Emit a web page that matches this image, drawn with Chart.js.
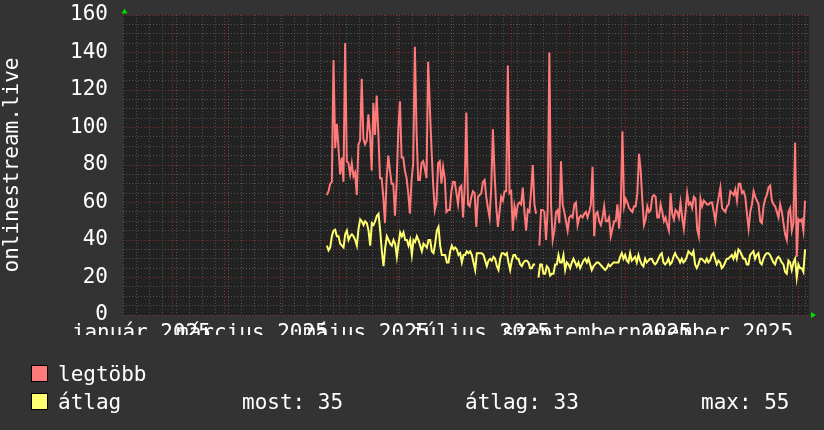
<!DOCTYPE html>
<html>
<head>
<meta charset="utf-8">
<script src="https://cdn.jsdelivr.net/npm/chart.js@4.4.1/dist/chart.umd.min.js"></script>
<style>
    html, body { margin: 0; padding: 0; background: #333333; }
    #wrap { width: 824px; height: 430px; }
</style>
</head>
<body>
<div id="wrap"><canvas id="myChart" width="824" height="430"></canvas></div>
<script>
// series values, one reading per step from late April 2025 to early January 2026 (null = no data)
const legtobb = [
    64, 66, 70, 71, 136, 89, 102, 89, 75, 84, 71, 145, 82, 81, 75, 81, 74, 76,
    64, 91, 93, 126, 94, 91, 93, 107, 97, 77, 113, 96, 117, 97, 73, 73, 63, 49, 73, 85,
    77, 70, 70, 53, 70, 98, 114, 84, 84, 77, 73, 65, 54, 72, 81, 143, 98, 72,
    72, 81, 82, 78, 73, 135, 111, 89, 70, 56, 60, 81, 82, 70, 79, 73,
    55, 56, 56, 66, 71, 71, 65, 59, 68, 69, 52, 68, 108, 59, 58, 63, 66, 65, 47, 63,
    64, 65, 71, 72, 63, 57, 52, 68, 99, 75, 58, 47, 55, 63, 61, 66, 66, 133, 65, 66,
    45, 58, 53, 59, 60, 59, 68, 55, 45, 56, 55, 66, 80, 59, 54,
    null,
    37, 56, 56, 55, 40, 56, 140, 59, 40, 45, 55, 56, 49, 82, 59, 55,
    50, 45, 52, 53, 52, 59, 60, 48, 52, 53, 52, 54, 55, 52, 55, 59, 79, 42, 54, 55,
    50, 48, 52, 58, 50, 50, 52, 42, 46, 50, 50, 59, 46, 58, 98, 58, 62, 60, 57, 56,
    55, 58, 58, 65, 86, 77, 61, 48, 51, 58, 55, 56, 63, 64, 63, 52, 52, 59, 55, 50,
    52, 48, 45, 65, 54, 51, 56, 55, 52, 60, 52, 46,
    55, 65, 59, 60, 57, 63, 62, 46, 42, 62, 58, 61, 60, 59, 59, 60, 60, 55, 50, 58,
    63, 68, 57, 56, 55, 58, 59, 66, 65, 64, 67, 61, 70, 70, 65, 66, 63, 54, 46, 55,
    59, 66, 63, 61, 59, 50, 49, 58, 62, 64, 68, 69, 61, 59, 58, 55, 52, 59, 55, 49,
    43, 40, 55, 57, 45, 49, 92, 31, 51, 50, 51, 45, 61
];
const atlag = [
    37, 34.5, 36, 42, 45, 45.5, 42, 42, 38, 37, 36, 43, 45, 40, 42, 43, 42, 40, 37, 46,
    51, 50, 48, 50, 49, 45, 37, 49, 48, 50, 53, 54, 45, 34, 26, 36, 42, 40, 38, 37,
    40, 38, 31, 38, 44, 42, 44, 40, 40, 37, 40, 32, 40, 39, 42, 40, 37, 34, 38, 37,
    36, 40, 40, 34, 33, 38, 45, 47, 37, 32, 32,
    32, 28, 28, 34, 37, 35, 36, 35, 32, 33, 28, 32, 32, 34, 33, 34, 32, 28, 24, 33,
    33, 33, 33, 32, 29, 26, 29, 30, 29, 31, 30, 26, 24, 30, 33, 33, 32, 33, 28, 24,
    29, 32, 32, 30, 30, 27, 26, 28, 29, 29, 28, 25, 25, 27, 27,
    null,
    20, 27, 27, 22, 22, 26, 25, 21, 22, 22, 27, 27, 32, 28, 28, 32,
    24, 28, 27, 25, 28, 30, 28, 26, 28, 25, 27, 29, 30, 28, 30, 27, 24, 26, 27, 28,
    28, 27, 26, 25, 24, 25, 27, 26, 27, 28, 28, 28, 28, 31, 33, 30, 32, 29, 28, 33,
    29, 30, 31, 28, 32, 29, 27, 26, 30, 28, 29, 30, 30, 28, 27, 28, 30, 32, 33, 28,
    27, 28, 30, 27, 28, 31, 33, 31, 30, 28, 30, 28,
    29, 31, 34, 33, 32, 34, 27, 25, 27, 30, 30, 29, 28, 30, 28, 29, 32, 33, 30, 27,
    29, 28, 25, 26, 28, 30, 30, 31, 32, 30, 33, 30, 35, 34, 32, 30, 30, 27, 27, 32,
    33, 34, 30, 32, 33, 28, 27, 30, 32, 33, 33, 32, 30, 28, 27, 30, 31, 30, 28, 27,
    23, 22, 29, 28, 24, 28, 30, 20, 27, 25, 25, 23, 35
];

// time range, in days counted from 1 January 2025
const AXIS_FIRST_DAY = 4.7;
const AXIS_LAST_DAY = 370.8;
const DATA_FIRST_DAY = 113.5;
const DATA_LAST_DAY = 368.7;

// x axis labels (every second month) and y axis range
const xLabels = ['január 2025', 'március 2025', 'május 2025', 'július 2025', 'szeptember 2025', 'november 2025'];
const xLabelMonths = [0, 2, 4, 6, 8, 10];
const LABEL_SHIFT_DAYS = 14.5;
const Y_MIN = 0, Y_MAX = 160, Y_STEP = 5, Y_LABEL_STEP = 20;

// legend
const seriesNames = ['legtöbb', 'átlag'];
const statLabels = ['most:', 'átlag:', 'max:'];
const statValues = [35, 33, 55];

const RED = 'rgb(255,122,122)';
const YELLOW = 'rgb(255,255,112)';
const MINOR_GRID = 'rgba(120,120,120,0.55)';
const MAJOR_GRID = 'rgba(170,50,50,0.75)';
const FONT = '"DejaVu Sans Mono", monospace';
const FONT_SIZE = 21;

function dayOf(y, m, d) {
    return (Date.UTC(y, m, d) - Date.UTC(2025, 0, 1)) / 86400000;
}

function toPoints(values) {
    const step = (DATA_LAST_DAY - DATA_FIRST_DAY) / (values.length - 1);
    return values.map((v, i) => ({ x: DATA_FIRST_DAY + i * step, y: v }));
}

// grid positions: month starts (major), mondays (minor), label centres
const monthDays = [];
for (let m = 0; m <= 12; m++) {
    const d = dayOf(2025, m, 1);
    if (d >= AXIS_FIRST_DAY && d <= AXIS_LAST_DAY) monthDays.push(d);
}
const weekDays = [];
for (let d = dayOf(2025, 0, 6); d <= AXIS_LAST_DAY; d += 7) {
    if (d >= AXIS_FIRST_DAY && !monthDays.includes(d)) weekDays.push(d);
}
const labelMap = new Map();
xLabelMonths.forEach((m, i) => labelMap.set(dayOf(2025, m, 1) + LABEL_SHIFT_DAYS, xLabels[i]));
const allTicks = [...monthDays, ...weekDays, ...labelMap.keys()].sort((a, b) => a - b);

const rrdLook = {
    id: 'rrdLook',
    beforeDraw(chart) {
        const { ctx, chartArea } = chart;
        ctx.save();
        ctx.fillStyle = '#333333';
        ctx.fillRect(0, 0, chart.width, chart.height);
        ctx.fillStyle = '#222222';
        ctx.fillRect(chartArea.left, chartArea.top, chartArea.right - chartArea.left, chartArea.bottom - chartArea.top);
        ctx.restore();
    },
    afterDraw(chart) {
        const { ctx, chartArea } = chart;
        ctx.save();
        // green axis arrows
        ctx.fillStyle = '#00dd00';
        ctx.beginPath();
        ctx.moveTo(chartArea.left - 1.5, chartArea.top - 1.5);
        ctx.lineTo(chartArea.left + 4.5, chartArea.top - 1.5);
        ctx.lineTo(chartArea.left + 1.5, chartArea.top - 6.5);
        ctx.closePath();
        ctx.fill();
        ctx.beginPath();
        ctx.moveTo(chartArea.right + 2, chartArea.bottom - 3);
        ctx.lineTo(chartArea.right + 2, chartArea.bottom + 3);
        ctx.lineTo(chartArea.right + 7, chartArea.bottom);
        ctx.closePath();
        ctx.fill();

        // legend
        ctx.font = FONT_SIZE + 'px ' + FONT;
        ctx.textBaseline = 'alphabetic';
        ctx.textAlign = 'left';
        const rows = [381, 409];
        const colors = [RED, YELLOW];
        rows.forEach((y, i) => {
            ctx.fillStyle = colors[i];
            ctx.fillRect(32, y - 15, 15, 15);
            ctx.strokeStyle = '#000000';
            ctx.lineWidth = 1;
            ctx.strokeRect(31.5, y - 15.5, 16, 16);
            ctx.fillStyle = '#ffffff';
            ctx.fillText(seriesNames[i], 58, y);
        });
        const statX = [242, 465, 701];
        statLabels.forEach((l, i) => {
            ctx.fillText(l + ' ' + statValues[i], statX[i], rows[1]);
        });
        ctx.restore();
    }
};

const config = {
    type: 'line',
    data: {
        datasets: [
            {
                label: seriesNames[0],
                data: toPoints(legtobb),
                borderColor: RED,
                backgroundColor: RED,
                borderWidth: 2,
                pointRadius: 0,
                tension: 0,
                spanGaps: false
            },
            {
                label: seriesNames[1],
                data: toPoints(atlag),
                borderColor: YELLOW,
                backgroundColor: YELLOW,
                borderWidth: 2,
                pointRadius: 0,
                tension: 0,
                spanGaps: false
            }
        ]
    },
    options: {
        responsive: false,
        animation: false,
        events: [],
        devicePixelRatio: 1,
        layout: { padding: { left: 0, right: 15, top: 15, bottom: 95 } },
        plugins: {
            legend: { display: false },
            tooltip: { enabled: false },
            title: { display: false }
        },
        scales: {
            x: {
                type: 'linear',
                min: AXIS_FIRST_DAY,
                max: AXIS_LAST_DAY,
                afterBuildTicks: (scale) => {
                    scale.ticks = allTicks.map(v => ({ value: v }));
                },
                afterFit: (scale) => {
                    scale.height = 20;
                    scale.paddingLeft = 0;
                    scale.paddingRight = 0;
                },
                ticks: {
                    autoSkip: false,
                    maxRotation: 0,
                    minRotation: 0,
                    padding: 6,
                    color: '#ffffff',
                    font: { family: FONT, size: FONT_SIZE },
                    callback: (value) => labelMap.get(value) || ''
                },
                grid: {
                    drawTicks: false,
                    lineWidth: 1,
                    color: (ctx) => {
                        const v = ctx.tick ? ctx.tick.value : null;
                        if (monthDays.includes(v)) return MAJOR_GRID;
                        if (labelMap.has(v)) return 'rgba(0,0,0,0)';
                        return MINOR_GRID;
                    }
                },
                border: { display: false, dash: [1, 2] }
            },
            y: {
                min: Y_MIN,
                max: Y_MAX,
                afterFit: (scale) => {
                    scale.width = 123;
                    scale.paddingTop = 0;
                    scale.paddingBottom = 0;
                },
                ticks: {
                    stepSize: Y_STEP,
                    autoSkip: false,
                    padding: 15,
                    color: '#ffffff',
                    font: { family: FONT, size: FONT_SIZE },
                    callback: (value) => (value % Y_LABEL_STEP === 0 ? String(value) : '')
                },
                grid: {
                    drawTicks: false,
                    lineWidth: 1,
                    color: (ctx) => (ctx.tick && ctx.tick.value % Y_LABEL_STEP === 0 ? MAJOR_GRID : MINOR_GRID)
                },
                border: { display: false, dash: [1, 2] },
                title: {
                    display: true,
                    text: 'onlinestream.live',
                    color: '#ffffff',
                    font: { family: FONT, size: FONT_SIZE },
                    padding: { top: 0, bottom: 0 }
                }
            }
        }
    },
    plugins: [rrdLook]
};

const myChart = new Chart(document.getElementById('myChart'), config);
</script>
</body>
</html>
